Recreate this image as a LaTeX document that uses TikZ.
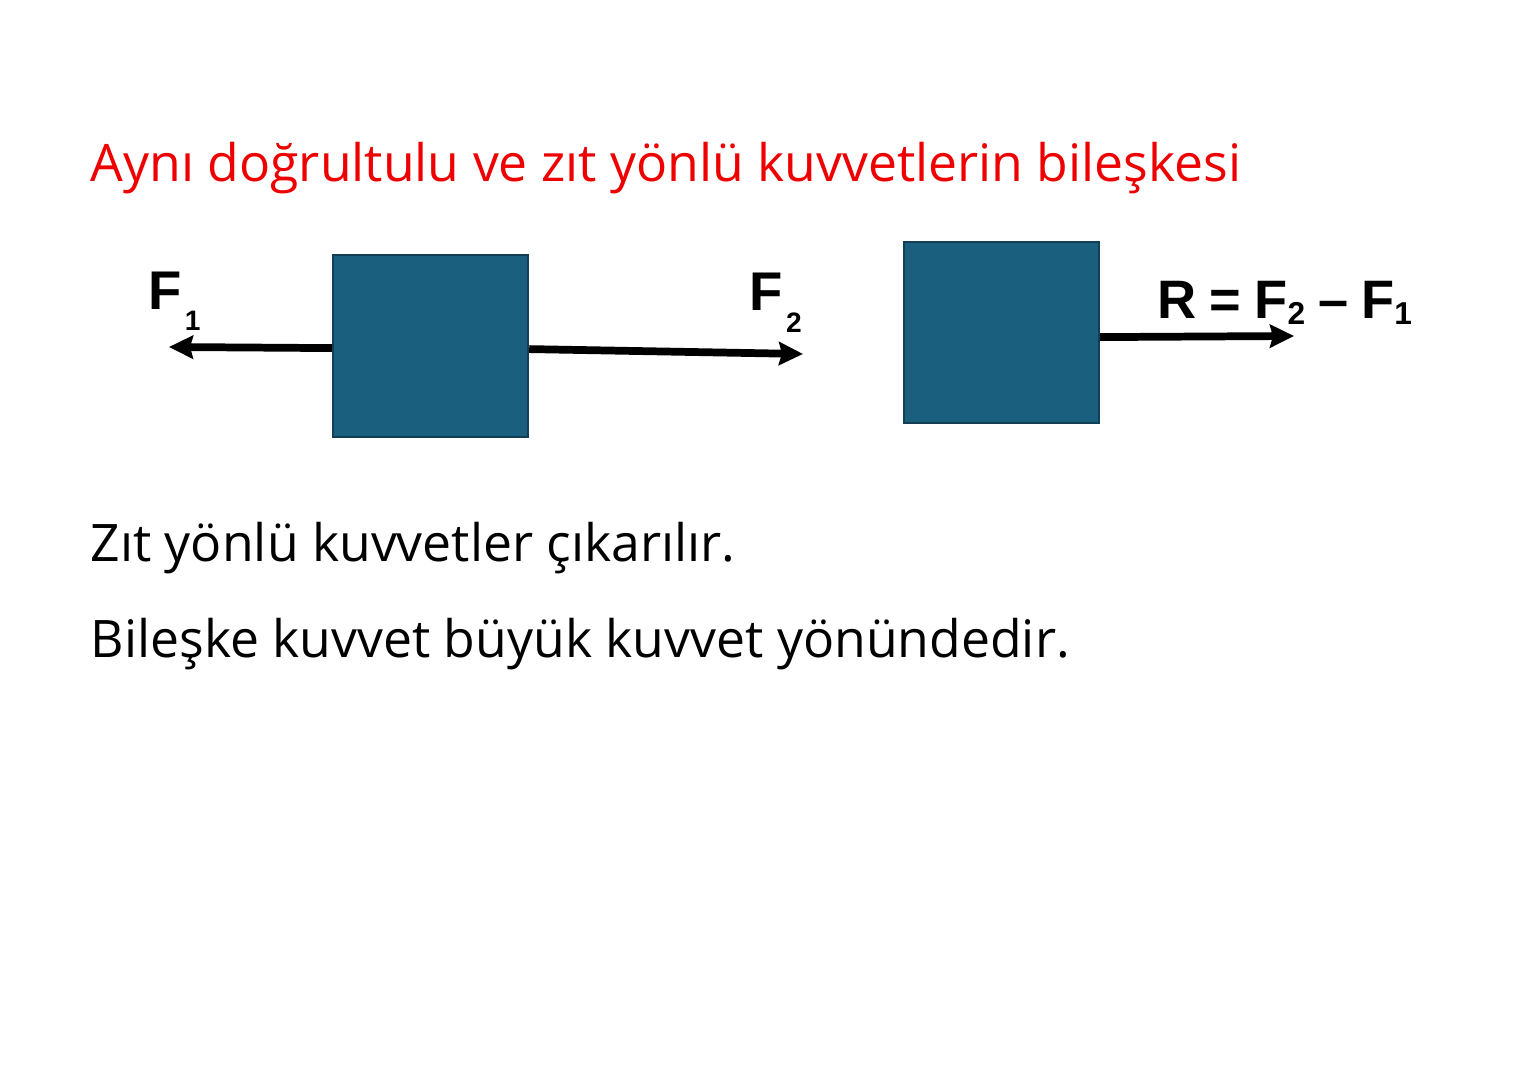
\documentclass[tikz,border=0pt]{standalone}
\usepackage{fontspec}
\setmainfont{Open Sans}
\newfontfamily\labelfont{Liberation Sans}
\usetikzlibrary{arrows.meta}

\definecolor{boxblue}{HTML}{1B5F7F}
\definecolor{boxedge}{HTML}{123F55}
\definecolor{titlered}{HTML}{EE0000}

\begin{document}
\begin{tikzpicture}[x=0.01cm,y=-0.01cm,
    block/.style={draw=boxedge,fill=boxblue,line width=0.6pt,
        minimum width=1.95cm,minimum height=1.82cm,anchor=north west,inner sep=0pt},
    force/.style={line width=2.2pt,-{Stealth[length=0.24cm,width=0.23cm,inset=0.03cm]}},
    txt/.style={anchor=base west,inner sep=0pt,font=\fontsize{14.7}{17}\selectfont},
    lbl/.style={anchor=base west,inner sep=0pt,font=\labelfont\bfseries\fontsize{15.5}{18}\selectfont}
    ]
    \useasboundingbox (0,0) rectangle (1532,1080);
    \node[txt,text=titlered] (title) at (90,182) {Aynı doğrultulu ve zıt yönlü kuvvetlerin bileşkesi};
    % left picture: two opposite forces
    \node[block] (boxA) at (332,254) {};
    \coordinate (tipA) at (169,347);
    \coordinate (tipB) at (803,354);
    \draw[force] ([yshift=-0.02cm]boxA.west) -- (tipA);
    \draw[force] ([yshift=-0.03cm]boxA.east) -- (tipB);
    \node[lbl] (labA) at (148,310) {F\kern0.03cm\raisebox{-0.21cm}{\fontsize{8}{8}\selectfont 1}};
    \node[lbl] (labB) at (749,311) {F\kern0.03cm\raisebox{-0.21cm}{\fontsize{8}{8}\selectfont 2}};
    % right picture: resultant
    \node[block,minimum height=1.81cm] (boxB) at (903,241) {};
    \coordinate (tipR) at (1294,336);
    \draw[force] ([yshift=-0.045cm]boxB.east) -- (tipR);
    \node[lbl,font=\labelfont\bfseries\fontsize{15.4}{18}\selectfont] (labR) at (1157,319)
        {R\hspace{0.13cm}=\hspace{0.13cm}F\raisebox{-0.06cm}{\fontsize{9}{9}\selectfont 2}\hspace{0.13cm}–\hspace{0.13cm}F\raisebox{-0.06cm}{\fontsize{9}{9}\selectfont 1}};
    % text below
    \node[txt] (lineA) at (90,562) {Zıt yönlü kuvvetler çıkarılır.};
    \node[txt] (lineB) at (90,658) {Bileşke kuvvet büyük kuvvet yönündedir.};
\end{tikzpicture}
\end{document}
